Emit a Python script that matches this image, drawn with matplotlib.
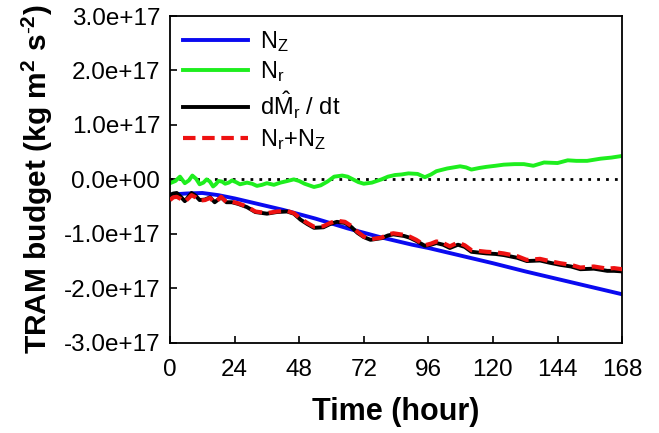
import numpy as np
import matplotlib
matplotlib.use("Agg")
import matplotlib.pyplot as plt

plt.rcParams['font.family'] = ['Liberation Sans', 'DejaVu Sans']
plt.rcParams['mathtext.fontset'] = 'custom'
plt.rcParams['mathtext.rm'] = 'Liberation Sans'
plt.rcParams['mathtext.it'] = 'Liberation Sans:italic'
plt.rcParams['mathtext.bf'] = 'Liberation Sans:bold'

SCALE = 1e17

# ---- data (values in units of 1e17) ----
t_nz = [0, 6, 12, 18, 24, 30, 36, 42, 48, 54, 60, 66, 72, 78, 84, 90, 96,
        108, 120, 132, 144, 156, 168]
nz = [-0.28, -0.26, -0.25, -0.29, -0.35, -0.42, -0.49, -0.56, -0.64, -0.72,
      -0.81, -0.90, -0.98, -1.06, -1.13, -1.20, -1.26, -1.40, -1.54, -1.69,
      -1.83, -1.97, -2.11]

t_nr = [0, 2, 3.7, 5.5, 7, 8.3, 9.7, 11, 12.4, 13.6, 14.8, 16, 17, 18, 19.3,
        20.5, 21.8, 23, 24.5, 26, 28.6, 30.5, 32.3, 34.2, 36, 38.6, 41, 43.6,
        46, 48, 50, 53.5, 56, 58.5, 61, 64, 66, 68, 70, 72, 75, 78.6, 81,
        83.6, 86, 88.6, 92, 94.7, 97, 99, 103, 107.8, 110, 112, 115, 117.6,
        121, 124, 128, 131.5, 135, 139, 144, 147.8, 151, 155, 160, 164, 168]
nr = [-0.07, -0.03, 0.05, -0.07, -0.02, 0.07, 0.01, -0.09, -0.06, 0.0, -0.04,
      -0.13, -0.09, -0.03, -0.04, -0.08, -0.06, -0.02, -0.05, -0.09, -0.06,
      -0.08, -0.12, -0.10, -0.07, -0.10, -0.06, -0.03, 0.0, -0.03, -0.08,
      -0.14, -0.11, -0.04, 0.05, 0.07, 0.05, 0.0, -0.05, -0.08, -0.06, 0.0,
      0.05, 0.08, 0.09, 0.11, 0.10, 0.04, 0.09, 0.15, 0.20, 0.24, 0.22, 0.18,
      0.21, 0.23, 0.25, 0.27, 0.28, 0.28, 0.25, 0.31, 0.30, 0.35, 0.34, 0.34,
      0.38, 0.40, 0.43]

t_sum = [0, 1.2, 2.5, 4, 5.5, 6.8, 8, 9.5, 11, 13, 14.9, 16.6, 19, 21, 23,
         25.3, 28.6, 31.7, 36, 39.7, 43.5, 46, 48.5, 51, 53.5, 57, 59.5, 62,
         65, 67.5, 69.6, 72, 74.5, 78.6, 81, 83, 87, 89, 91.5, 94.7, 97, 99,
         101.5, 104, 107, 109.5, 112, 117.6, 121, 124, 129, 132.6, 137.5,
         141, 145, 149, 152.5, 157.5, 162.5, 165, 168]
dmdt = [-0.29, -0.26, -0.25, -0.32, -0.40, -0.32, -0.25, -0.30, -0.38, -0.37,
        -0.33, -0.42, -0.33, -0.42, -0.42, -0.45, -0.51, -0.60, -0.63, -0.60,
        -0.59, -0.63, -0.74, -0.82, -0.89, -0.88, -0.82, -0.78, -0.80, -0.88,
        -0.98, -1.06, -1.11, -1.08, -1.03, -1.01, -1.04, -1.07, -1.13, -1.22,
        -1.20, -1.17, -1.20, -1.26, -1.20, -1.24, -1.33, -1.36, -1.37, -1.39,
        -1.44, -1.50, -1.49, -1.53, -1.57, -1.60, -1.65, -1.64, -1.68, -1.68,
        -1.69]
nr_nz = [-0.38, -0.33, -0.32, -0.36, -0.41, -0.35, -0.29, -0.33, -0.39, -0.38,
         -0.34, -0.43, -0.32, -0.42, -0.41, -0.44, -0.50, -0.59, -0.62, -0.59,
         -0.58, -0.62, -0.72, -0.80, -0.87, -0.86, -0.80, -0.76, -0.78, -0.86,
         -0.96, -1.05, -1.10, -1.07, -1.01, -0.99, -1.02, -1.05, -1.11, -1.21,
         -1.18, -1.14, -1.17, -1.23, -1.16, -1.21, -1.30, -1.33, -1.34, -1.36,
         -1.41, -1.48, -1.46, -1.50, -1.54, -1.57, -1.62, -1.60, -1.64, -1.63,
         -1.65]

xticks = [0, 24, 48, 72, 96, 120, 144, 168]
yticks = [-3, -2, -1, 0, 1, 2, 3]

fig = plt.figure(figsize=(6.59, 4.33), dpi=100)
ax = fig.add_axes([0.258, 0.2085, 0.686, 0.7545])

ax.axhline(0, color='black', lw=2, ls=(0, (1, 2.2)), zorder=1)
ax.plot(t_nz, np.array(nz) * SCALE, color='#0a0af0', lw=2.8, label=r'N$_\mathrm{Z}$', zorder=2)
ax.plot(t_nr, np.array(nr) * SCALE, color='#1eee1e', lw=2.8, label=r'N$_\mathrm{r}$', zorder=2)
ax.plot(t_sum, np.array(dmdt) * SCALE, color='black', lw=2.8,
        label=r'd$\hat{\mathrm{M}}_\mathrm{r}$ / dt', zorder=3)
ax.plot(t_sum, np.array(nr_nz) * SCALE, color='#ee1111', lw=3.0, ls=(0, (3, 1.6)),
        label=r'N$_\mathrm{r}$+N$_\mathrm{Z}$', zorder=4)

ax.set_xlim(0, 168)
ax.set_ylim(-3 * SCALE, 3 * SCALE)
ax.set_xticks(xticks)
ax.set_xticklabels([str(v) for v in xticks])
ax.set_yticks([v * SCALE for v in yticks])
ax.set_yticklabels(['%.1e' % (v * SCALE) for v in yticks])
ax.tick_params(direction='in', length=5, width=1.2, labelsize=17.5,
               top=False, right=False)
ax.tick_params(axis='x', pad=12)
ax.tick_params(axis='y', pad=7)
for s in ax.spines.values():
    s.set_linewidth(1.3)

ax.set_xlabel('Time (hour)', fontsize=22, fontweight='bold', labelpad=11)
ax.set_ylabel(r'TRAM budget (kg m$^\mathbf{2}$ s$^\mathbf{\text{-}2}$)', fontsize=21.5,
              fontweight='bold', labelpad=6)

ax.legend(loc='upper left', frameon=False, fontsize=17, handlelength=2.75,
          handletextpad=0.5, labelspacing=0.24, borderaxespad=0.15,
          bbox_to_anchor=(0.0, 1.0))

fig.savefig('out.png', dpi=100)
